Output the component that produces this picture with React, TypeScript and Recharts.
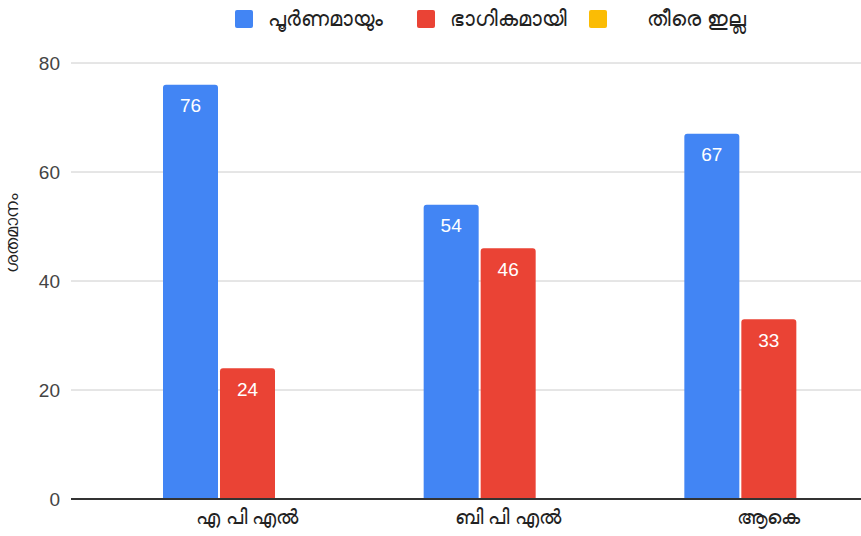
import { Bar, BarChart, CartesianGrid, LabelList, XAxis, YAxis } from "recharts";

const categories = ["എ പി എൽ", "ബി പി എൽ", "ആകെ"];
const fullValues = [76, 54, 67];
const partialValues = [24, 46, 33];
const noneValues = [0, 0, 0];
const seriesNames = ["പൂർണമായും", "ഭാഗികമായി", "തീരെ ഇല്ല"];
const seriesColors = ["#4285F4", "#EA4335", "#FBBC04"];
const yTicks = [0, 20, 40, 60, 80];
const yTitle = "ശതമാനം";

const FONT = "'Liberation Sans', Arial, 'Noto Sans', sans-serif";

const data = categories.map((name, i) => ({
  name,
  full: fullValues[i],
  partial: partialValues[i],
  none: noneValues[i],
}));

// spacing in the legend is uneven in the original, so set it per item
const swatchGap = [15, 15, 40];
const itemGap = [34, 22, 0];

function ChartLegend() {
  return (
    <div
      style={{
        position: "absolute",
        left: 235,
        top: 7,
        display: "flex",
        alignItems: "center",
        fontFamily: FONT,
        fontSize: 21,
        color: "#222",
      }}
    >
      {seriesNames.map((n, i) => (
        <div key={n} style={{ display: "flex", alignItems: "center", marginRight: itemGap[i] }}>
          <div style={{ width: 18, height: 18, borderRadius: 2, background: seriesColors[i], marginRight: swatchGap[i] }} />
          <span>{n}</span>
        </div>
      ))}
    </div>
  );
}

export default function App() {
  return (
    <div style={{ position: "absolute", left: 0, top: 0, width: 861, height: 536 }}>
      <BarChart
        width={861}
        height={536}
        data={data}
        margin={{ top: 63, right: 0, left: 0, bottom: 0 }}
        barSize={55}
        barGap={2}
      >
        <CartesianGrid vertical={false} stroke="#cccccc" />
        <XAxis
          dataKey="name"
          height={37}
          padding={{ left: 46, right: -38 }}
          axisLine={{ stroke: "#333333", strokeWidth: 2 }}
          tickLine={false}
          tickMargin={5}
          tick={{ fontSize: 19.5, fill: "#222", fontFamily: FONT }}
        />
        <YAxis
          width={71}
          domain={[0, 80]}
          ticks={yTicks}
          axisLine={false}
          tickLine={false}
          tickMargin={5}
          tick={{ fontSize: 19, fill: "#444", fontFamily: FONT }}
          label={{
            content: () => (
              <text
                x={12}
                y={233}
                transform="rotate(-90 12 233)"
                textAnchor="middle"
                dominantBaseline="central"
                fontSize={18}
                fill="#222"
                fontFamily={FONT}
              >
                {yTitle}
              </text>
            ),
          }}
        />
        <Bar dataKey="full" name={seriesNames[0]} fill={seriesColors[0]} radius={[3, 3, 0, 0]} isAnimationActive={false}>
          <LabelList dataKey="full" position="insideTop" offset={14} fill="#ffffff" fontSize={19} fontFamily={FONT} />
        </Bar>
        <Bar dataKey="partial" name={seriesNames[1]} fill={seriesColors[1]} radius={[3, 3, 0, 0]} isAnimationActive={false}>
          <LabelList dataKey="partial" position="insideTop" offset={14} fill="#ffffff" fontSize={19} fontFamily={FONT} />
        </Bar>
        <Bar dataKey="none" name={seriesNames[2]} fill={seriesColors[2]} radius={[3, 3, 0, 0]} isAnimationActive={false} />
      </BarChart>
      <ChartLegend />
    </div>
  );
}
